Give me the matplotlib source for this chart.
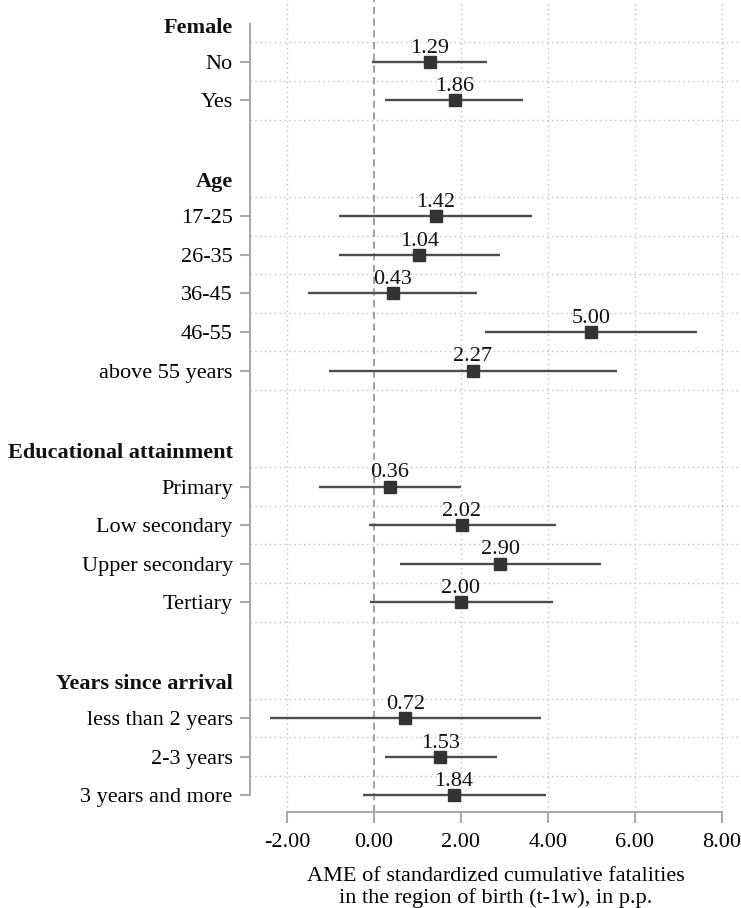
import numpy as np
import matplotlib.pyplot as plt

plt.rcParams['font.family'] = ['Liberation Serif', 'DejaVu Serif']

# coefficient table
groups = ["Female", "Age", "Educational attainment", "Years since arrival"]
group_labels = [
    ["No", "Yes"],
    ["17-25", "26-35", "36-45", "46-55", "above 55 years"],
    ["Primary", "Low secondary", "Upper secondary", "Tertiary"],
    ["less than 2 years", "2-3 years", "3 years and more"],
]
estimates = [
    [1.29, 1.86],
    [1.42, 1.04, 0.43, 5.00, 2.27],
    [0.36, 2.02, 2.90, 2.00],
    [0.72, 1.53, 1.84],
]
ci_low = [
    [-0.05, 0.26],
    [-0.80, -0.80, -1.52, 2.56, -1.03],
    [-1.27, -0.11, 0.61, -0.08],
    [-2.40, 0.25, -0.25],
]
ci_high = [
    [2.59, 3.42],
    [3.63, 2.90, 2.36, 7.43, 5.58],
    [2.01, 4.18, 5.23, 4.11],
    [3.84, 2.83, 3.95],
]
x_ticks = [-2, 0, 2, 4, 6, 8]
x_label = "AME of standardized cumulative fatalities\nin the region of birth (t-1w), in p.p."

FS = 16
GRID = '#c4c4c4'
SPINE = '#aaaaaa'

fig = plt.figure(figsize=(7.41, 9.08), dpi=100)
ax = fig.add_axes([250 / 741, 1 - 812 / 908, 491 / 741, 812 / 908])

# row positions: one row per item, two empty rows + header between groups
positions = []
pos = 0
for labels in group_labels:
    positions.append(list(range(pos, pos + len(labels))))
    pos += len(labels) + 2

tick_pos, tick_lab = [], []
for g, name in enumerate(groups):
    p = np.array(positions[g])
    est = np.array(estimates[g])
    lo = np.array(ci_low[g])
    hi = np.array(ci_high[g])

    for y in np.arange(p[0] - 0.5, p[-1] + 1.0, 1.0):
        ax.axhline(y, color=GRID, lw=1.0, ls=(0, (1, 2.5)), zorder=1)

    ax.hlines(p, lo, hi, color='#4d4d4d', lw=1.7, zorder=3)
    ax.plot(est, p, 's', ms=8.5, color='#333333', zorder=4)
    for xv, yv in zip(est, p):
        ax.text(xv, yv - 0.24, f"{xv:.2f}", ha='center', va='baseline',
                fontsize=FS, color='#111111', zorder=5)

    ax.text(-17 / 491, p[0] - 0.88, name, transform=ax.get_yaxis_transform(),
            ha='right', va='center', fontsize=FS, fontweight='bold', color='#111111')

    tick_pos += list(p)
    tick_lab += group_labels[g]

for xv in x_ticks:
    if xv == 0:
        ax.axvline(0, color='#999999', lw=1.3, ls=(0, (4, 2.5)), zorder=2)
    else:
        ax.axvline(xv, color=GRID, lw=1.0, ls=(0, (1, 2.5)), zorder=1)

ax.set_xlim(-2.85, 8.44)
ax.set_ylim(19.43, -1.6)

ax.set_xticks(x_ticks)
ax.set_xticklabels([f"{v:.2f}" for v in x_ticks], fontsize=FS)
ax.set_yticks(tick_pos)
ax.set_yticklabels(tick_lab, fontsize=FS)
ax.tick_params(axis='x', length=8, width=1.5, color=SPINE, pad=7)
ax.tick_params(axis='y', length=7, width=1.5, color=SPINE, pad=5.5)

for side in ['top', 'right']:
    ax.spines[side].set_visible(False)
ax.spines['left'].set_color(SPINE)
ax.spines['left'].set_linewidth(1.5)
ax.spines['left'].set_bounds(-0.98, 19)
ax.spines['bottom'].set_color(SPINE)
ax.spines['bottom'].set_linewidth(1.5)
ax.spines['bottom'].set_bounds(-2, 8)

ax.set_xlabel(x_label, fontsize=FS, linespacing=1.1, labelpad=11)

fig.savefig('out.png', dpi=100)
